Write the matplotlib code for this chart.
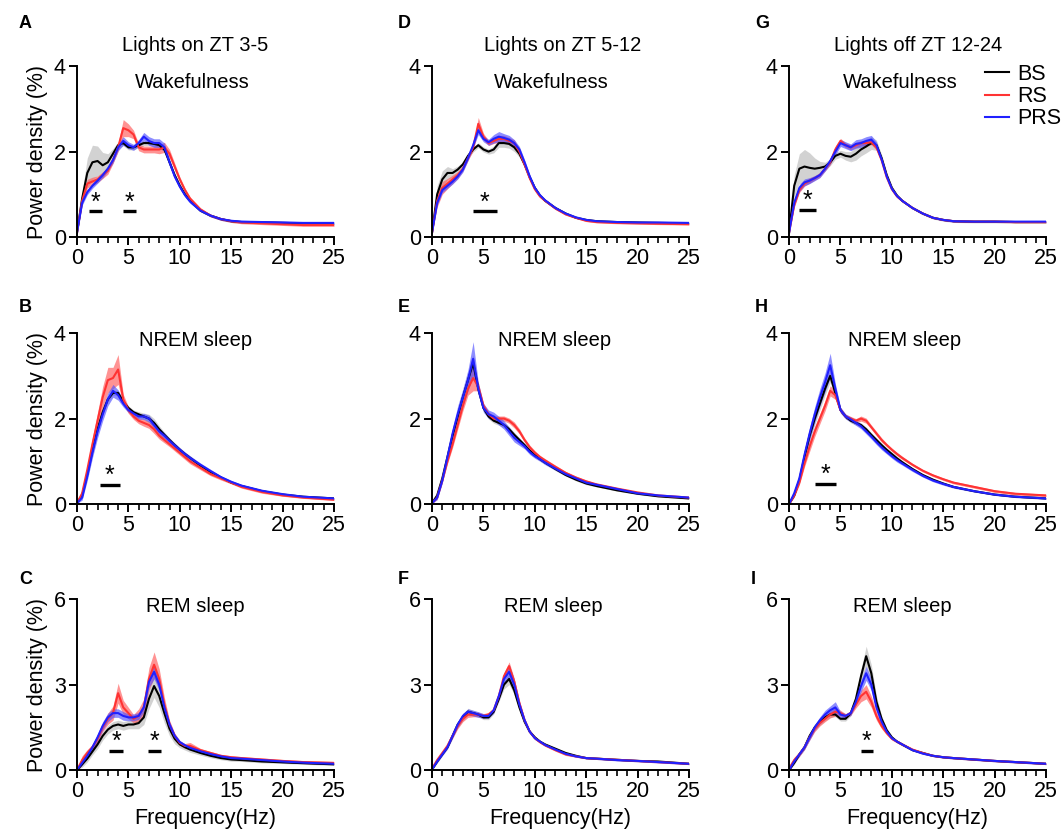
import numpy as np
import matplotlib
matplotlib.use("Agg")
import matplotlib.pyplot as plt

plt.rcParams["font.family"] = ["Liberation Sans", "DejaVu Sans"]

freq_hz = [0, 0.5, 1, 1.5, 2, 2.5, 3, 3.5, 4, 4.5, 5, 5.5, 6, 6.5, 7, 7.5, 8, 8.5,
           9, 9.5, 10, 10.5, 11, 12, 13, 14, 15, 16, 18, 20, 22, 25]
groups = ["BS", "RS", "PRS"]

# A: lights on ZT 3-5, wakefulness
a_bs = [0.1, 0.9, 1.5, 1.75, 1.78, 1.68, 1.75, 1.95, 2.15, 2.2, 2.1, 2.1, 2.15, 2.2, 2.2, 2.18,
        2.15, 2.05, 1.75, 1.45, 1.2, 1.0, 0.85, 0.62, 0.5, 0.42, 0.37, 0.35, 0.34, 0.33, 0.32, 0.31]
a_rs = [0.1, 0.85, 1.25, 1.3, 1.35, 1.45, 1.55, 1.8, 2.1, 2.55, 2.5, 2.4, 2.1, 2.05, 2.05, 2.05,
        2.05, 2.1, 1.95, 1.65, 1.35, 1.1, 0.9, 0.65, 0.5, 0.42, 0.37, 0.34, 0.32, 0.3, 0.28, 0.28]
a_prs = [0.1, 0.8, 1.05, 1.2, 1.32, 1.45, 1.6, 1.8, 2.1, 2.25, 2.15, 2.1, 2.2, 2.35, 2.25, 2.2,
         2.2, 2.1, 1.75, 1.42, 1.18, 0.98, 0.83, 0.62, 0.5, 0.42, 0.38, 0.36, 0.35, 0.34, 0.33, 0.33]
a_bs_sem = [0.02, 0.15, 0.35, 0.4, 0.35, 0.3, 0.2, 0.12, 0.08, 0.06, 0.06, 0.06, 0.06, 0.06, 0.06, 0.06,
            0.06, 0.06, 0.06, 0.05, 0.05, 0.04, 0.04, 0.03, 0.03, 0.03, 0.03, 0.03, 0.03, 0.03, 0.03, 0.03]
a_rs_sem = [0.02, 0.1, 0.1, 0.1, 0.08, 0.08, 0.08, 0.08, 0.1, 0.2, 0.15, 0.1, 0.08, 0.08, 0.08, 0.08,
            0.1, 0.12, 0.1, 0.08, 0.06, 0.05, 0.04, 0.03, 0.03, 0.03, 0.03, 0.03, 0.03, 0.03, 0.03, 0.03]
a_prs_sem = [0.02, 0.06, 0.06, 0.06, 0.06, 0.06, 0.06, 0.07, 0.08, 0.1, 0.08, 0.07, 0.08, 0.1, 0.1, 0.1,
             0.1, 0.1, 0.08, 0.06, 0.05, 0.04, 0.04, 0.03, 0.03, 0.03, 0.03, 0.03, 0.03, 0.03, 0.03, 0.03]
a_sig = [(1.2, 2.4), (4.5, 5.7)]

# B: lights on ZT 3-5, NREM
b_bs = [0.02, 0.2, 0.7, 1.25, 1.75, 2.15, 2.45, 2.6, 2.6, 2.4, 2.25, 2.15, 2.1, 2.05, 2.0, 1.9,
        1.75, 1.62, 1.5, 1.38, 1.27, 1.17, 1.08, 0.9, 0.75, 0.62, 0.5, 0.42, 0.3, 0.22, 0.17, 0.13]
b_rs = [0.02, 0.25, 0.8, 1.4, 1.95, 2.5, 2.9, 2.95, 3.15, 2.45, 2.2, 2.05, 1.95, 1.9, 1.85, 1.75,
        1.6, 1.5, 1.4, 1.3, 1.2, 1.1, 1.0, 0.85, 0.7, 0.6, 0.5, 0.4, 0.28, 0.2, 0.15, 0.1]
b_prs = [0.02, 0.15, 0.65, 1.2, 1.7, 2.1, 2.45, 2.65, 2.55, 2.35, 2.2, 2.12, 2.05, 2.05, 2.0, 1.85,
         1.7, 1.6, 1.48, 1.37, 1.27, 1.17, 1.08, 0.92, 0.77, 0.63, 0.52, 0.43, 0.31, 0.23, 0.17, 0.13]
b_bs_sem = [0.01, 0.05, 0.06, 0.06, 0.06, 0.06, 0.06, 0.06, 0.06, 0.05, 0.05, 0.05, 0.06, 0.08, 0.1, 0.1,
            0.08, 0.06, 0.05, 0.05, 0.05, 0.04, 0.04, 0.03, 0.03, 0.03, 0.02, 0.02, 0.02, 0.02, 0.02, 0.02]
b_rs_sem = [0.01, 0.08, 0.1, 0.15, 0.2, 0.25, 0.3, 0.25, 0.35, 0.12, 0.08, 0.07, 0.07, 0.08, 0.08, 0.1,
            0.08, 0.07, 0.06, 0.06, 0.06, 0.06, 0.06, 0.05, 0.04, 0.04, 0.03, 0.03, 0.03, 0.02, 0.02, 0.02]
b_prs_sem = [0.01, 0.06, 0.1, 0.12, 0.15, 0.15, 0.15, 0.15, 0.12, 0.08, 0.06, 0.06, 0.06, 0.07, 0.08, 0.08,
             0.08, 0.07, 0.06, 0.06, 0.05, 0.05, 0.05, 0.04, 0.04, 0.03, 0.03, 0.03, 0.02, 0.02, 0.02, 0.02]
b_sig = [(2.2, 4.2)]

# C: lights on ZT 3-5, REM
c_bs = [0.0, 0.2, 0.4, 0.65, 0.9, 1.2, 1.42, 1.55, 1.6, 1.55, 1.6, 1.6, 1.65, 1.85, 2.5, 2.95,
        2.6, 2.0, 1.45, 1.1, 0.9, 0.8, 0.72, 0.6, 0.5, 0.42, 0.37, 0.35, 0.3, 0.27, 0.24, 0.2]
c_rs = [0.0, 0.35, 0.6, 0.8, 1.1, 1.5, 1.8, 2.0, 2.7, 2.2, 2.0, 1.8, 1.9, 2.2, 3.2, 3.7,
        3.2, 2.3, 1.6, 1.2, 0.95, 0.85, 0.85, 0.7, 0.6, 0.5, 0.45, 0.42, 0.37, 0.32, 0.28, 0.25]
c_prs = [0.0, 0.25, 0.5, 0.8, 1.15, 1.55, 1.85, 2.0, 2.0, 1.9, 1.85, 1.85, 1.9, 2.2, 3.1, 3.45,
         3.0, 2.2, 1.6, 1.2, 0.98, 0.87, 0.78, 0.66, 0.56, 0.48, 0.42, 0.4, 0.35, 0.3, 0.26, 0.22]
c_bs_sem = [0.02, 0.1, 0.12, 0.12, 0.15, 0.15, 0.15, 0.15, 0.15, 0.15, 0.15, 0.15, 0.2, 0.25, 0.35, 0.4,
            0.4, 0.35, 0.25, 0.18, 0.12, 0.1, 0.1, 0.08, 0.07, 0.06, 0.06, 0.05, 0.05, 0.04, 0.04, 0.04]
c_rs_sem = [0.05, 0.15, 0.12, 0.1, 0.12, 0.15, 0.2, 0.25, 0.35, 0.25, 0.2, 0.15, 0.25, 0.3, 0.4, 0.45,
            0.35, 0.25, 0.15, 0.1, 0.08, 0.08, 0.12, 0.06, 0.05, 0.05, 0.05, 0.05, 0.05, 0.05, 0.05, 0.05]
c_prs_sem = [0.02, 0.08, 0.08, 0.1, 0.12, 0.15, 0.15, 0.15, 0.15, 0.15, 0.12, 0.12, 0.12, 0.15, 0.2, 0.25,
             0.2, 0.15, 0.1, 0.08, 0.06, 0.05, 0.05, 0.05, 0.04, 0.04, 0.04, 0.04, 0.04, 0.04, 0.03, 0.03]
c_sig = [(3.1, 4.5), (6.9, 8.2)]

# D: lights on ZT 5-12, wakefulness
d_bs = [0.1, 1.0, 1.35, 1.5, 1.5, 1.58, 1.7, 1.9, 2.05, 2.15, 2.05, 2.0, 2.05, 2.2, 2.2, 2.18,
        2.1, 1.95, 1.7, 1.4, 1.15, 0.97, 0.85, 0.68, 0.55, 0.45, 0.4, 0.37, 0.35, 0.34, 0.33, 0.32]
d_rs = [0.1, 0.85, 1.15, 1.25, 1.35, 1.45, 1.6, 1.85, 2.1, 2.65, 2.35, 2.2, 2.25, 2.3, 2.3, 2.25,
        2.2, 2.0, 1.7, 1.38, 1.12, 0.95, 0.85, 0.67, 0.53, 0.45, 0.38, 0.35, 0.33, 0.32, 0.31, 0.3]
d_prs = [0.1, 0.8, 1.1, 1.2, 1.3, 1.42, 1.58, 1.85, 2.15, 2.5, 2.3, 2.22, 2.3, 2.35, 2.32, 2.28,
         2.2, 2.05, 1.75, 1.42, 1.15, 0.98, 0.86, 0.68, 0.55, 0.46, 0.4, 0.37, 0.35, 0.34, 0.34, 0.33]
d_bs_sem = [0.02, 0.2, 0.2, 0.15, 0.1, 0.08, 0.06, 0.06, 0.06, 0.06, 0.06, 0.06, 0.08, 0.1, 0.1, 0.1,
            0.1, 0.08, 0.06, 0.05, 0.04, 0.03, 0.03, 0.03, 0.02, 0.02, 0.02, 0.02, 0.02, 0.02, 0.02, 0.02]
d_rs_sem = [0.02, 0.15, 0.15, 0.12, 0.1, 0.08, 0.06, 0.06, 0.08, 0.15, 0.08, 0.06, 0.06, 0.08, 0.08, 0.08,
            0.08, 0.07, 0.06, 0.05, 0.04, 0.03, 0.03, 0.03, 0.02, 0.02, 0.02, 0.02, 0.02, 0.02, 0.02, 0.02]
d_prs_sem = [0.02, 0.06, 0.06, 0.06, 0.06, 0.06, 0.06, 0.06, 0.06, 0.1, 0.07, 0.07, 0.1, 0.12, 0.1, 0.1,
             0.08, 0.07, 0.06, 0.05, 0.04, 0.03, 0.03, 0.03, 0.02, 0.02, 0.02, 0.02, 0.02, 0.02, 0.02, 0.02]
d_sig = [(4.0, 6.3)]

# E: lights on ZT 5-12, NREM
e_bs = [0.02, 0.2, 0.6, 1.1, 1.6, 2.05, 2.5, 2.9, 3.3, 2.7, 2.25, 2.05, 1.95, 1.9, 1.85, 1.75,
        1.62, 1.5, 1.38, 1.25, 1.15, 1.05, 0.97, 0.82, 0.68, 0.57, 0.48, 0.42, 0.32, 0.24, 0.18, 0.13]
e_rs = [0.02, 0.15, 0.55, 1.0, 1.4, 1.85, 2.3, 2.7, 2.95, 2.75, 2.3, 2.1, 2.0, 2.0, 2.0, 1.95,
        1.85, 1.7, 1.5, 1.33, 1.2, 1.1, 1.02, 0.87, 0.73, 0.62, 0.53, 0.46, 0.36, 0.27, 0.2, 0.15]
e_prs = [0.02, 0.15, 0.55, 1.1, 1.65, 2.1, 2.5, 2.9, 3.4, 2.7, 2.25, 2.1, 2.05, 1.95, 1.85, 1.7,
         1.55, 1.45, 1.35, 1.22, 1.12, 1.05, 0.97, 0.83, 0.7, 0.6, 0.5, 0.45, 0.35, 0.25, 0.2, 0.15]
e_bs_sem = [0.01, 0.04, 0.05, 0.06, 0.08, 0.1, 0.12, 0.15, 0.2, 0.1, 0.07, 0.06, 0.06, 0.06, 0.06, 0.06,
            0.06, 0.05, 0.05, 0.05, 0.05, 0.04, 0.04, 0.04, 0.03, 0.03, 0.03, 0.02, 0.02, 0.02, 0.02, 0.02]
e_rs_sem = [0.01, 0.04, 0.05, 0.06, 0.08, 0.1, 0.12, 0.15, 0.3, 0.1, 0.07, 0.06, 0.06, 0.06, 0.06, 0.06,
            0.07, 0.06, 0.05, 0.05, 0.05, 0.04, 0.04, 0.04, 0.03, 0.03, 0.03, 0.02, 0.02, 0.02, 0.02, 0.02]
e_prs_sem = [0.01, 0.05, 0.06, 0.1, 0.15, 0.2, 0.2, 0.25, 0.4, 0.15, 0.1, 0.1, 0.1, 0.1, 0.1, 0.1,
             0.1, 0.08, 0.06, 0.06, 0.05, 0.05, 0.05, 0.04, 0.04, 0.03, 0.03, 0.03, 0.02, 0.02, 0.02, 0.02]
e_sig = []

# F: lights on ZT 5-12, REM
f_bs = [0.02, 0.3, 0.55, 0.8, 1.2, 1.6, 1.85, 2.05, 2.0, 1.95, 1.85, 1.85, 2.05, 2.5, 3.0, 3.2,
        2.8, 2.2, 1.7, 1.35, 1.15, 1.0, 0.9, 0.75, 0.6, 0.5, 0.42, 0.4, 0.36, 0.32, 0.3, 0.22]
f_rs = [0.05, 0.35, 0.6, 0.85, 1.2, 1.55, 1.8, 1.95, 1.95, 1.95, 1.9, 1.95, 2.1, 2.6, 3.3, 3.65,
        3.1, 2.35, 1.75, 1.35, 1.12, 0.98, 0.87, 0.7, 0.55, 0.48, 0.42, 0.4, 0.36, 0.32, 0.28, 0.22]
f_prs = [0.02, 0.3, 0.55, 0.8, 1.2, 1.6, 1.9, 2.05, 2.0, 1.95, 1.9, 1.9, 2.1, 2.6, 3.2, 3.45,
         3.0, 2.3, 1.75, 1.35, 1.12, 1.0, 0.88, 0.72, 0.57, 0.48, 0.42, 0.4, 0.35, 0.32, 0.28, 0.22]
f_bs_sem = [0.02, 0.05, 0.05, 0.06, 0.08, 0.1, 0.12, 0.12, 0.1, 0.08, 0.08, 0.08, 0.08, 0.1, 0.15, 0.2,
            0.15, 0.1, 0.08, 0.06, 0.05, 0.04, 0.04, 0.03, 0.03, 0.03, 0.03, 0.03, 0.03, 0.03, 0.03, 0.03]
f_rs_sem = [0.05, 0.06, 0.05, 0.06, 0.08, 0.1, 0.1, 0.1, 0.08, 0.08, 0.08, 0.08, 0.08, 0.1, 0.12, 0.15,
            0.12, 0.1, 0.08, 0.06, 0.05, 0.04, 0.04, 0.04, 0.04, 0.03, 0.03, 0.03, 0.03, 0.03, 0.03, 0.03]
f_prs_sem = [0.02, 0.05, 0.05, 0.06, 0.08, 0.1, 0.1, 0.1, 0.1, 0.1, 0.08, 0.08, 0.1, 0.15, 0.2, 0.25,
             0.2, 0.12, 0.08, 0.06, 0.05, 0.04, 0.04, 0.03, 0.03, 0.03, 0.03, 0.03, 0.03, 0.03, 0.03, 0.03]
f_sig = []

# G: lights off ZT 12-24, wakefulness
g_bs = [0.1, 1.2, 1.6, 1.65, 1.62, 1.6, 1.62, 1.65, 1.75, 1.9, 1.95, 1.9, 1.88, 1.95, 2.05, 2.12,
        2.2, 2.15, 1.85, 1.45, 1.15, 0.97, 0.85, 0.68, 0.55, 0.45, 0.4, 0.37, 0.36, 0.36, 0.35, 0.35]
g_rs = [0.1, 0.75, 1.1, 1.25, 1.32, 1.38, 1.45, 1.6, 1.75, 2.05, 2.25, 2.15, 2.1, 2.15, 2.2, 2.2,
        2.22, 2.1, 1.8, 1.4, 1.12, 0.95, 0.85, 0.68, 0.55, 0.45, 0.4, 0.37, 0.36, 0.36, 0.35, 0.35]
g_prs = [0.1, 0.8, 1.15, 1.28, 1.32, 1.38, 1.45, 1.6, 1.78, 2.0, 2.2, 2.15, 2.1, 2.18, 2.2, 2.25,
         2.28, 2.15, 1.82, 1.42, 1.13, 0.96, 0.85, 0.68, 0.55, 0.45, 0.4, 0.37, 0.36, 0.36, 0.36, 0.36]
g_bs_sem = [0.02, 0.25, 0.35, 0.4, 0.35, 0.25, 0.15, 0.1, 0.08, 0.08, 0.08, 0.1, 0.12, 0.15, 0.15, 0.15,
            0.15, 0.12, 0.08, 0.06, 0.05, 0.04, 0.03, 0.03, 0.03, 0.03, 0.03, 0.03, 0.03, 0.03, 0.03, 0.03]
g_rs_sem = [0.02, 0.06, 0.06, 0.06, 0.06, 0.05, 0.05, 0.05, 0.06, 0.08, 0.06, 0.06, 0.06, 0.06, 0.06, 0.06,
            0.06, 0.06, 0.05, 0.04, 0.04, 0.03, 0.03, 0.02, 0.02, 0.02, 0.02, 0.02, 0.02, 0.02, 0.02, 0.02]
g_prs_sem = [0.02, 0.08, 0.08, 0.08, 0.07, 0.06, 0.06, 0.06, 0.07, 0.08, 0.08, 0.08, 0.08, 0.1, 0.1, 0.1,
             0.1, 0.08, 0.06, 0.05, 0.04, 0.03, 0.03, 0.02, 0.02, 0.02, 0.02, 0.02, 0.02, 0.02, 0.02, 0.02]
g_sig = [(1.0, 2.6)]

# H: lights off ZT 12-24, NREM
h_bs = [0.0, 0.2, 0.55, 1.1, 1.6, 2.0, 2.35, 2.7, 3.0, 2.6, 2.2, 2.05, 1.95, 1.9, 1.85, 1.75,
        1.62, 1.5, 1.38, 1.27, 1.17, 1.07, 0.98, 0.82, 0.68, 0.57, 0.48, 0.4, 0.3, 0.22, 0.17, 0.13]
h_rs = [0.0, 0.2, 0.5, 0.95, 1.35, 1.7, 2.0, 2.3, 2.65, 2.55, 2.2, 2.05, 2.0, 1.95, 2.0, 1.95,
        1.8, 1.65, 1.5, 1.38, 1.27, 1.17, 1.08, 0.92, 0.78, 0.67, 0.58, 0.5, 0.4, 0.3, 0.24, 0.2]
h_prs = [0.0, 0.25, 0.6, 1.15, 1.65, 2.1, 2.5, 2.85, 3.25, 2.7, 2.2, 2.05, 1.98, 1.9, 1.82, 1.7,
         1.58, 1.45, 1.33, 1.22, 1.12, 1.03, 0.95, 0.8, 0.66, 0.55, 0.47, 0.4, 0.3, 0.22, 0.17, 0.13]
h_bs_sem = [0.01, 0.04, 0.05, 0.08, 0.12, 0.15, 0.15, 0.15, 0.15, 0.1, 0.06, 0.05, 0.05, 0.05, 0.05, 0.05,
            0.05, 0.05, 0.05, 0.04, 0.04, 0.04, 0.04, 0.03, 0.03, 0.03, 0.02, 0.02, 0.02, 0.02, 0.02, 0.02]
h_rs_sem = [0.01, 0.04, 0.05, 0.08, 0.12, 0.12, 0.12, 0.12, 0.12, 0.1, 0.06, 0.05, 0.05, 0.05, 0.06, 0.06,
            0.05, 0.05, 0.05, 0.04, 0.04, 0.04, 0.04, 0.03, 0.03, 0.03, 0.03, 0.03, 0.03, 0.03, 0.03, 0.03]
h_prs_sem = [0.01, 0.06, 0.08, 0.12, 0.15, 0.18, 0.2, 0.22, 0.28, 0.12, 0.07, 0.06, 0.06, 0.06, 0.06, 0.06,
             0.06, 0.06, 0.06, 0.05, 0.05, 0.05, 0.04, 0.04, 0.03, 0.03, 0.03, 0.03, 0.02, 0.02, 0.02, 0.02]
h_sig = [(2.5, 4.6)]

# I: lights off ZT 12-24, REM
i_bs = [0.0, 0.25, 0.55, 0.8, 1.2, 1.5, 1.7, 1.85, 1.95, 1.95, 1.8, 1.8, 2.0, 2.5, 3.3, 4.0,
        3.4, 2.4, 1.8, 1.4, 1.15, 1.0, 0.9, 0.7, 0.6, 0.5, 0.45, 0.42, 0.37, 0.32, 0.28, 0.22]
i_rs = [0.05, 0.35, 0.55, 0.8, 1.15, 1.45, 1.65, 1.8, 1.95, 2.05, 2.0, 1.9, 2.0, 2.3, 2.6, 2.75,
        2.4, 1.9, 1.55, 1.3, 1.1, 1.0, 0.9, 0.72, 0.6, 0.5, 0.45, 0.42, 0.37, 0.32, 0.28, 0.22]
i_prs = [0.0, 0.3, 0.55, 0.8, 1.15, 1.5, 1.75, 1.95, 2.1, 2.2, 1.95, 1.9, 2.0, 2.4, 2.95, 3.4,
         3.0, 2.2, 1.7, 1.35, 1.12, 1.0, 0.9, 0.7, 0.58, 0.5, 0.45, 0.42, 0.37, 0.32, 0.28, 0.22]
i_bs_sem = [0.02, 0.06, 0.06, 0.08, 0.1, 0.12, 0.12, 0.12, 0.1, 0.08, 0.08, 0.08, 0.1, 0.15, 0.25, 0.35,
            0.3, 0.2, 0.1, 0.07, 0.05, 0.04, 0.04, 0.03, 0.03, 0.03, 0.03, 0.03, 0.03, 0.03, 0.03, 0.03]
i_rs_sem = [0.1, 0.1, 0.08, 0.08, 0.1, 0.1, 0.1, 0.1, 0.12, 0.15, 0.1, 0.08, 0.08, 0.12, 0.2, 0.25,
            0.2, 0.15, 0.1, 0.07, 0.05, 0.05, 0.05, 0.04, 0.04, 0.03, 0.03, 0.03, 0.03, 0.03, 0.03, 0.03]
i_prs_sem = [0.02, 0.06, 0.06, 0.08, 0.1, 0.1, 0.12, 0.15, 0.15, 0.2, 0.1, 0.08, 0.08, 0.12, 0.2, 0.25,
             0.2, 0.12, 0.08, 0.06, 0.05, 0.04, 0.04, 0.03, 0.03, 0.03, 0.03, 0.03, 0.03, 0.03, 0.03, 0.03]
i_sig = [(6.95, 8.2)]

col_titles = ["Lights on ZT 3-5", "Lights on ZT 5-12", "Lights off ZT 12-24"]
row_titles = ["Wakefulness", "NREM sleep", "REM sleep"]
row_ymax = [4, 4, 6]

line_colors = ["#000000", "#ff3333", "#2020ff"]
band_colors = ["#c4c4c4", "#ff5a5a", "#5050ff"]
band_alpha = [0.75, 0.65, 0.65]

# panel letter, row, col, series, sems, significance, bar height, sub-title x
panels = [
    ("A", 0, 0, (a_bs, a_rs, a_prs), (a_bs_sem, a_rs_sem, a_prs_sem), a_sig, 0.6, 0.45),
    ("B", 1, 0, (b_bs, b_rs, b_prs), (b_bs_sem, b_rs_sem, b_prs_sem), b_sig, 0.44, 0.46),
    ("C", 2, 0, (c_bs, c_rs, c_prs), (c_bs_sem, c_rs_sem, c_prs_sem), c_sig, 0.68, 0.46),
    ("D", 0, 1, (d_bs, d_rs, d_prs), (d_bs_sem, d_rs_sem, d_prs_sem), d_sig, 0.6, 0.465),
    ("E", 1, 1, (e_bs, e_rs, e_prs), (e_bs_sem, e_rs_sem, e_prs_sem), e_sig, 0.44, 0.477),
    ("F", 2, 1, (f_bs, f_rs, f_prs), (f_bs_sem, f_rs_sem, f_prs_sem), f_sig, 0.68, 0.47),
    ("G", 0, 2, (g_bs, g_rs, g_prs), (g_bs_sem, g_rs_sem, g_prs_sem), g_sig, 0.63, 0.434),
    ("H", 1, 2, (h_bs, h_rs, h_prs), (h_bs_sem, h_rs_sem, h_prs_sem), h_sig, 0.46, 0.45),
    ("I", 2, 2, (i_bs, i_rs, i_prs), (i_bs_sem, i_rs_sem, i_prs_sem), i_sig, 0.68, 0.44),
]

col_left = [0.0725, 0.4068, 0.743]
row_bottom = [0.7155, 0.395, 0.0756]
ax_w, ax_h = 0.242, 0.205
letter_xy = {"A": (19, 23), "B": (19, 307), "C": (19, 579),
             "D": (398, 23), "E": (398, 307), "F": (398, 579),
             "G": (755, 23), "H": (755, 307), "I": (751, 579)}

fig = plt.figure(figsize=(10.62, 8.33), dpi=100)
x = np.array(freq_hz)

for letter, r, c, series, sems, sig, bar_y, sub_x in panels:
    ax = fig.add_axes([col_left[c], row_bottom[r], ax_w, ax_h])
    for k in range(3):
        y = np.array(series[k])
        s = np.array(sems[k])
        ax.fill_between(x, y - s, y + s, color=band_colors[k], alpha=band_alpha[k],
                        lw=0, zorder=1 + k)
    for k in range(3):
        ax.plot(x, series[k], color=line_colors[k], lw=1.5, zorder=5, label=groups[k])

    ymax = row_ymax[r]
    ax.set_xlim(0, 25)
    ax.set_ylim(0, ymax)
    ax.set_xticks(range(0, 26, 5))
    ax.set_xticks(range(0, 26, 1), minor=True)
    ax.set_yticks([0, ymax / 2, ymax])
    ax.set_yticklabels([0, int(ymax / 2), ymax])
    for side in ["top", "right"]:
        ax.spines[side].set_visible(False)
    for side in ["left", "bottom"]:
        ax.spines[side].set_linewidth(1.4)
        ax.spines[side].set_zorder(10)
    ax.tick_params(which="major", length=6, width=1.4, labelsize=15.5, pad=2)
    ax.tick_params(which="minor", length=4, width=1.2)

    ax.text(sub_x, 0.955 if r else 0.905, row_titles[r], transform=ax.transAxes,
            ha="center", va="center", fontsize=14.5)
    if r == 0:
        ax.text([0.46, 0.51, 0.503][c], 1.123, col_titles[c], transform=ax.transAxes,
                ha="center", va="center", fontsize=14.5)
    if c == 0:
        ax.set_ylabel("Power density (%)", fontsize=15.5, labelpad=4)
    if r == 2:
        ax.set_xlabel("Frequency(Hz)", fontsize=15.5, labelpad=4)

    # significance bars with asterisk
    for lo, hi in sig:
        ax.plot([lo, hi], [bar_y, bar_y], color="black", lw=2.4, solid_capstyle="butt", zorder=6)
        ax.annotate("*", ((lo + hi) / 2, bar_y), xytext=(0, 2), textcoords="offset pixels",
                    ha="center", va="baseline", fontsize=18, zorder=6)

    lx, ly = letter_xy[letter]
    fig.text(lx / 1062, 1 - ly / 833, letter, fontsize=13, fontweight="bold",
             ha="left", va="center")

    if letter == "G":
        handles, labels = ax.get_legend_handles_labels()
        fig.legend(handles, labels, loc="upper left",
                   bbox_to_anchor=(985 / 1062, 1 - 64 / 833), frameon=False,
                   fontsize=15.5, handlelength=1.1, handletextpad=0.4,
                   labelspacing=0.05, borderpad=0, borderaxespad=0)

fig.savefig("out.png", dpi=100)
